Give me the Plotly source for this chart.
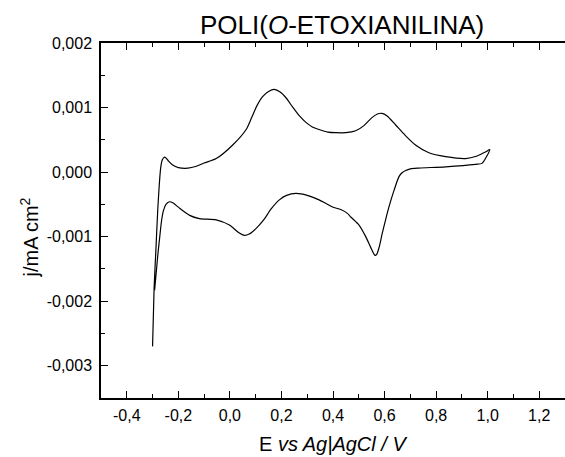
import plotly.graph_objects as go

# Anodic scan (forward, left -> right)
E_fwd = [-0.300, -0.294, -0.287, -0.280, -0.274, -0.268, -0.262, -0.255, -0.248, -0.238,
         -0.222, -0.200, -0.163, -0.130, -0.100, -0.053, 0.011, 0.063, 0.085, 0.105,
         0.127, 0.150, 0.172, 0.195, 0.220, 0.243, 0.270, 0.295, 0.320, 0.346,
         0.380, 0.411, 0.450, 0.488, 0.520, 0.550, 0.572, 0.590, 0.610, 0.643,
         0.680, 0.720, 0.772, 0.837, 0.914, 0.959, 0.991, 1.008]
j_fwd = [-0.00270, -0.00180, -0.00120, -0.00060, -0.00020, 0.00008, 0.00019, 0.00023, 0.00022, 0.00017,
         0.00011, 0.00007, 0.00006, 0.00009, 0.00014, 0.00021, 0.00042, 0.00066, 0.00085, 0.00103,
         0.00117, 0.00125, 0.00128, 0.00124, 0.00114, 0.00101, 0.00087, 0.00077, 0.00070, 0.00066,
         0.00062, 0.00061, 0.00061, 0.00064, 0.00072, 0.00084, 0.00090, 0.00091, 0.00087, 0.00073,
         0.00057, 0.00042, 0.00030, 0.00024, 0.00021, 0.00025, 0.00031, 0.00035]

# Cathodic scan (reverse, right -> left)
E_rev = [0.978, 0.953, 0.837, 0.733, 0.700, 0.682, 0.668, 0.656, 0.637, 0.617,
         0.604, 0.591, 0.580, 0.570, 0.563, 0.550, 0.527, 0.501, 0.470, 0.456,
         0.430, 0.398, 0.370, 0.346, 0.300, 0.256, 0.220, 0.192, 0.160, 0.131,
         0.100, 0.075, 0.056, 0.035, -0.002, -0.053, -0.118, -0.156, -0.195, -0.220,
         -0.234, -0.248, -0.258, -0.265, -0.272, -0.280, -0.292]
j_rev = [0.000135, 0.000120, 0.000082, 0.000062, 0.000050, 0.000025, -0.000010, -0.00007, -0.00028, -0.00054,
         -0.00074, -0.00095, -0.00115, -0.00127, -0.00129, -0.00120, -0.00100, -0.00082, -0.00070, -0.00064,
         -0.00058, -0.00054, -0.00048, -0.00043, -0.00036, -0.00033, -0.00036, -0.00043, -0.00057, -0.00074,
         -0.00088, -0.00096, -0.00098, -0.00094, -0.00082, -0.00074, -0.00072, -0.00067, -0.00056, -0.00048,
         -0.00046, -0.00050, -0.00060, -0.00075, -0.00100, -0.00130, -0.00183]

x_tickvals = [-0.4, -0.2, 0.0, 0.2, 0.4, 0.6, 0.8, 1.0, 1.2]
x_ticktext = ["-0,4", "-0,2", "0,0", "0,2", "0,4", "0,6", "0,8", "1,0", "1,2"]
y_tickvals = [0.002, 0.001, 0.0, -0.001, -0.002, -0.003]
y_ticktext = ["0,002", "0,001", "0,000", "-0,001", "-0,002", "-0,003"]

E = E_fwd + E_rev
j = j_fwd + j_rev

fig = go.Figure()
fig.add_trace(go.Scatter(x=E, y=j, mode="lines",
                         line=dict(color="black", width=1.2, shape="spline", smoothing=0.7),
                         showlegend=False, hoverinfo="skip"))

font_family = "Liberation Sans, Arial, sans-serif"
axis_common = dict(showgrid=False, zeroline=False, showline=True, linecolor="black", linewidth=1.5,
                   ticks="inside", ticklen=7, tickwidth=1.2, tickcolor="black",
                   tickfont=dict(family=font_family, size=16, color="black"))

fig.update_layout(
    width=565, height=457,
    margin=dict(l=101, r=0, t=43, b=59),
    paper_bgcolor="white", plot_bgcolor="white",
    font=dict(family=font_family, color="black"),
    xaxis=dict(range=[-0.5, 1.3], tickvals=x_tickvals, ticktext=x_ticktext, mirror="allticks",
               minor=dict(dtick=0.1, tick0=0, ticks="inside", ticklen=4, tickcolor="black", tickwidth=1.2),
               ticklabelstandoff=2, **axis_common),
    yaxis=dict(range=[-0.0035, 0.002], tickvals=y_tickvals, ticktext=y_ticktext, mirror=False,
               minor=dict(dtick=0.0005, tick0=0, ticks="inside", ticklen=4, tickcolor="black", tickwidth=1.2),
               ticklabelstandoff=4, **axis_common),
    annotations=[
        dict(text="POLI(<i>O</i>-ETOXIANILINA)", xref="paper", yref="paper", x=0.519, y=1.0,
             yshift=1, xanchor="center", yanchor="bottom", showarrow=False,
             font=dict(family=font_family, size=26, color="black")),
        dict(text="E <i>vs Ag|AgCl / V</i>", xref="paper", yref="paper", x=0.5, y=0,
             yshift=-33, xanchor="center", yanchor="top", showarrow=False,
             font=dict(family=font_family, size=20, color="black")),
        dict(text="j/mA cm<sup>2</sup>", xref="paper", yref="paper", x=0, y=0.5,
             xshift=-72, yshift=-17, textangle=-90, xanchor="center", yanchor="middle", showarrow=False,
             font=dict(family=font_family, size=20, color="black")),
    ],
)

fig.write_html("out.html", config={"displayModeBar": False},
               post_script="document.body.style.margin='0';document.body.style.overflow='hidden';")
